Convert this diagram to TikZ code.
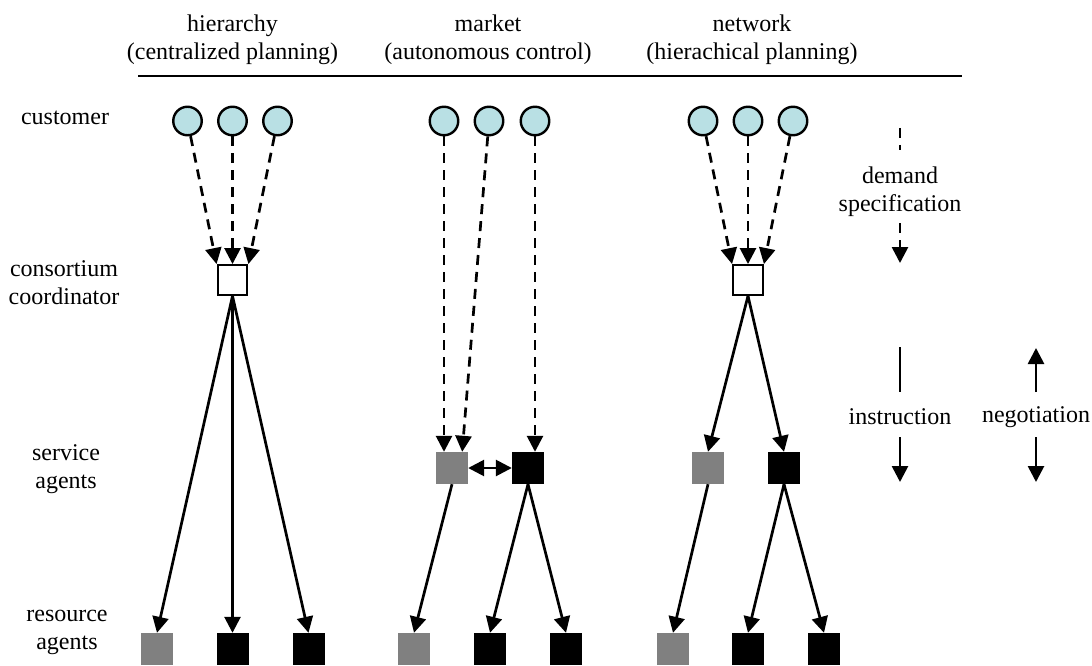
\documentclass[tikz,border=0pt]{standalone}
\usepackage{fontspec}
\setmainfont{Liberation Serif}
\usetikzlibrary{arrows.meta,calc}
\definecolor{custfill}{RGB}{185,224,228}
\definecolor{agentgray}{RGB}{128,128,128}
\begin{document}
\begin{tikzpicture}[x=1pt,y=-1pt,
  every node/.style={font=\fontsize{24}{28}\selectfont},
  lbl/.style={align=center, inner sep=0pt},
  cust/.style={circle, draw, line width=2.4pt, fill=custfill, minimum size=28.5pt, inner sep=0pt},
  coordbox/.style={rectangle, draw, line width=2.4pt, fill=white, minimum size=29.5pt, inner sep=0pt},
  blk/.style={rectangle, fill=black, minimum size=32pt, inner sep=0pt},
  gry/.style={rectangle, fill=agentgray, minimum size=32pt, inner sep=0pt},
  tip/.tip={Triangle[length=16pt,width=16pt]},
  plain/.style={line width=2.7pt},
  arr/.style={plain, -tip},
  dsh/.style={plain, dash pattern=on 10pt off 7pt},
  darr/.style={dsh, -tip},
  dbl/.style={plain, tip-tip}]
\useasboundingbox (0,0) rectangle (1092,666);

% headers
\node[lbl] (hh) at (232.5,40) {hierarchy\\(centralized planning)};
\node[lbl] (hm) at (488,40) {market\\(autonomous control)};
\node[lbl] (hn) at (752,40) {network\\(hierachical planning)};
\coordinate (ruleL) at (138,76);
\coordinate (ruleR) at (962,76);
\draw[line width=2.7pt] (ruleL) -- (ruleR);

% row labels
\node[lbl] (lcust) at (65,118) {customer};
\node[lbl] (lcons) at (64,283) {consortium\\coordinator};
\node[lbl] (lserv) at (66,469) {service\\agents};
\node[lbl] (lres) at (67,632) {resource\\agents};

% hierarchy
\node[cust] (h1) at (187.5,121) {};
\node[cust] (h2) at (232.5,121) {};
\node[cust] (h3) at (277.5,121) {};
\node[coordbox] (hc) at (232.5,280) {};
\node[gry] (hr1) at (157,649) {};
\node[blk] (hr2) at (232.5,649) {};
\node[blk] (hr3) at (308.5,649) {};
\draw[darr] (h1) -- (hc.north west);
\draw[darr] (h2) -- (hc.north);
\draw[darr] (h3) -- (hc.north east);
\draw[arr] (hc.south) -- (hr1.north);
\draw[arr] (hc.south) -- (hr2.north);
\draw[arr] (hc.south) -- (hr3.north);

% market
\node[cust] (m1) at (444,121) {};
\node[cust] (m2) at (489,121) {};
\node[cust] (m3) at (535,121) {};
\node[gry] (ms1) at (452,468) {};
\node[blk] (ms2) at (528,468) {};
\node[gry] (mr1) at (414,649) {};
\node[blk] (mr2) at (490,649) {};
\node[blk] (mr3) at (566,649) {};
\draw[darr] (m1) -- (m1 |- ms1.north);
\draw[darr] (m2) -- ($(ms1.north east)+(-6,0)$);
\draw[darr] (m3) -- (m3 |- ms2.north);
\draw[dbl] (ms1) -- (ms2);
\draw[arr] (ms1.south) -- (mr1.north);
\draw[arr] (ms2.south) -- (mr2.north);
\draw[arr] (ms2.south) -- (mr3.north);

% network
\node[cust] (n1) at (703,121) {};
\node[cust] (n2) at (748,121) {};
\node[cust] (n3) at (793,121) {};
\node[coordbox] (nc) at (748,280) {};
\node[gry] (ns1) at (708,468) {};
\node[blk] (ns2) at (784,468) {};
\node[gry] (nr1) at (673,649) {};
\node[blk] (nr2) at (748,649) {};
\node[blk] (nr3) at (824,649) {};
\draw[darr] (n1) -- (nc.north west);
\draw[darr] (n2) -- (nc.north);
\draw[darr] (n3) -- (nc.north east);
\draw[arr] (nc.south) -- (ns1.north);
\draw[arr] (nc.south) -- (ns2.north);
\draw[arr] (ns1.south) -- (nr1.north);
\draw[arr] (ns2.south) -- (nr2.north);
\draw[arr] (ns2.south) -- (nr3.north);

% legend: demand specification
\coordinate (ds1) at (900,128);
\coordinate (ds2) at (900,150);
\node[lbl] (dsl) at (900,192) {demand\\specification};
\coordinate (ds3) at (900,223);
\coordinate (ds4) at (900,263);
\draw[dsh] (ds1) -- (ds2);
\draw[darr] (ds3) -- (ds4);

% legend: instruction
\coordinate (in1) at (900,347);
\coordinate (in2) at (900,392);
\node[lbl] (inl) at (900,417) {instruction};
\coordinate (in3) at (900,437);
\coordinate (in4) at (900,482);
\draw[plain] (in1) -- (in2);
\draw[arr] (in3) -- (in4);

% legend: negotiation
\coordinate (ne1) at (1036,392);
\coordinate (ne2) at (1036,348);
\node[lbl] (nel) at (1036,417) {negotiation};
\coordinate (ne3) at (1036,437);
\coordinate (ne4) at (1036,482);
\draw[arr] (ne1) -- (ne2);
\draw[arr] (ne3) -- (ne4);
\end{tikzpicture}
\end{document}
